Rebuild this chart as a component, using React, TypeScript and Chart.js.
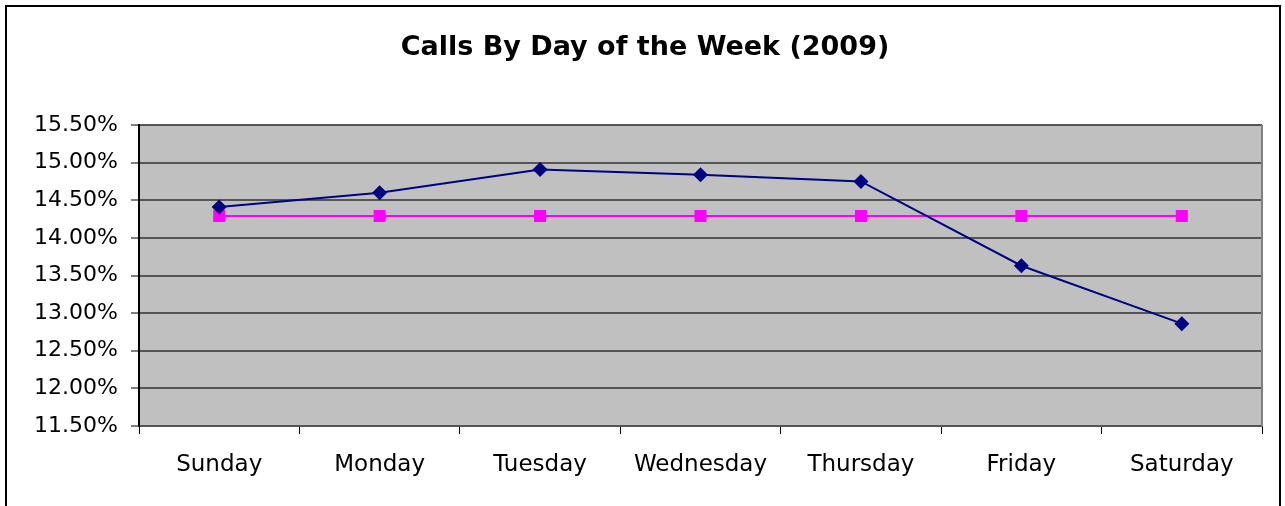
import React, { useEffect, useRef } from "react";
import { Chart, registerables } from "chart.js";

Chart.register(...registerables);

const days = ["Sunday", "Monday", "Tuesday", "Wednesday", "Thursday", "Friday", "Saturday"];
const callShare = [14.41, 14.60, 14.91, 14.84, 14.75, 13.63, 12.86];
const evenShare = [14.29, 14.29, 14.29, 14.29, 14.29, 14.29, 14.29];
const yMin = 11.5;
const yMax = 15.5;
const yStep = 0.5;
const titleText = "Calls By Day of the Week (2009)";

const FONT = '"DejaVu Sans", "Liberation Sans", Arial, sans-serif';

const framePlugin = {
  id: "framePlugin",
  beforeDraw(chart: any) {
    const { ctx, chartArea } = chart;
    ctx.save();
    ctx.fillStyle = "#ffffff";
    ctx.fillRect(0, 0, chart.width, chart.height);
    ctx.fillStyle = "#C0C0C0";
    ctx.fillRect(chartArea.left, chartArea.top, chartArea.right - chartArea.left, chartArea.bottom - chartArea.top);
    ctx.restore();
  },
  afterDraw(chart: any) {
    const { ctx, chartArea } = chart;
    ctx.save();
    // plot right border
    ctx.strokeStyle = "#808080";
    ctx.lineWidth = 2;
    ctx.beginPath();
    ctx.moveTo(chartArea.right, chartArea.top);
    ctx.lineTo(chartArea.right, chartArea.bottom);
    ctx.stroke();
    // outer frame
    ctx.strokeStyle = "#000000";
    ctx.lineWidth = 2;
    ctx.strokeRect(6, 6, 1274, 600);
    // title
    ctx.fillStyle = "#000000";
    ctx.font = `bold 27px ${FONT}`;
    ctx.textAlign = "center";
    ctx.textBaseline = "alphabetic";
    ctx.fillText(titleText, 645, 55);
    ctx.restore();
  },
};

export default function App() {
  const canvasRef = useRef<HTMLCanvasElement | null>(null);

  useEffect(() => {
    if (!canvasRef.current) return;
    const chart = new Chart(canvasRef.current, {
      type: "line",
      data: {
        labels: days,
        datasets: [
          {
            label: "Calls",
            data: callShare,
            borderColor: "#000080",
            backgroundColor: "#000080",
            borderWidth: 2,
            pointStyle: "rectRot",
            pointRadius: 7.5,
            pointBorderWidth: 0,
            tension: 0,
            order: 1,
          },
          {
            label: "Average",
            data: evenShare,
            borderColor: "#FF00FF",
            backgroundColor: "#FF00FF",
            borderWidth: 2,
            pointStyle: "rect",
            pointRadius: 8.5,
            pointBorderWidth: 0,
            tension: 0,
            order: 2,
          },
        ],
      },
      options: {
        responsive: false,
        animation: false,
        devicePixelRatio: 1,
        layout: { padding: { left: 0, top: 125, right: 23, bottom: 0 } },
        plugins: {
          legend: { display: false },
          title: { display: false },
          tooltip: { enabled: false },
        },
        scales: {
          x: {
            type: "category",
            offset: true,
            grid: {
              offset: true,
              drawOnChartArea: false,
              drawTicks: true,
              tickLength: 8,
              color: "#000000",
              lineWidth: 1,
            },
            border: { display: true, color: "#555555", width: 2 },
            ticks: {
              color: "#000000",
              font: { family: FONT, size: 23 },
              padding: 17,
              maxRotation: 0,
              autoSkip: false,
            },
            afterFit(scale: any) {
              scale.height = 80;
            },
          },
          y: {
            min: yMin,
            max: yMax,
            grid: {
              color: "#555555",
              lineWidth: 2,
              tickLength: 8,
              tickColor: "#000000",
              tickWidth: 1,
            },
            border: { display: true, color: "#000000", width: 2 },
            ticks: {
              stepSize: yStep,
              color: "#000000",
              font: { family: FONT, size: 22 },
              padding: 13,
              callback: (v: any) => Number(v).toFixed(2) + "%",
            },
            afterFit(scale: any) {
              scale.width = 139;
            },
          },
        },
      },
      plugins: [framePlugin],
    });
    return () => chart.destroy();
  }, []);

  return (
    <div style={{ position: "absolute", left: 0, top: 0, width: 1285, height: 506 }}>
      <canvas ref={canvasRef} width={1285} height={506} style={{ display: "block" }} />
    </div>
  );
}
